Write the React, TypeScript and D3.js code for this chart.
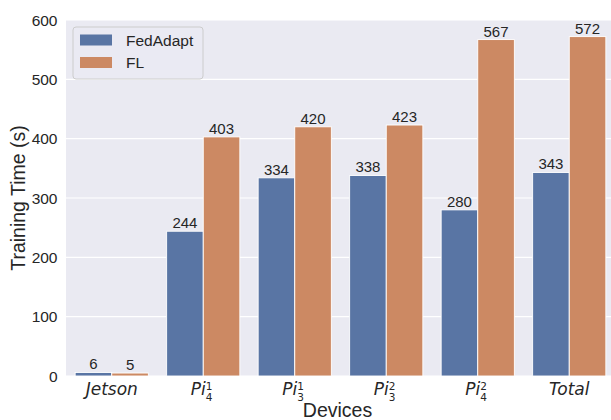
import * as React from 'react';
import * as d3 from 'd3';

const devices = ['Jetson', 'Pi41', 'Pi31', 'Pi32', 'Pi42', 'Total'];
const series = ['FedAdapt', 'FL'];
const fedAdapt = [6, 244, 334, 338, 280, 343];
const fl = [5, 403, 420, 423, 567, 572];
const yTicks = [0, 100, 200, 300, 400, 500, 600];

// how each x label is written: plain italic, or Pi with sup/sub
const tickLabels: Record<string, { base: string; sup?: string; sub?: string }> = {
  Jetson: { base: 'Jetson' },
  Pi41: { base: 'Pi', sup: '1', sub: '4' },
  Pi31: { base: 'Pi', sup: '1', sub: '3' },
  Pi32: { base: 'Pi', sup: '2', sub: '3' },
  Pi42: { base: 'Pi', sup: '2', sub: '4' },
  Total: { base: 'Total' },
};

const colors = ['#5975a4', '#cc8963'];
const W = 611;
const H = 420;
const m = { left: 66, right: 615, top: 20, bottom: 376 };
const textColor = '#262626';
const sans = '"Liberation Sans", Arial, sans-serif';
const math = '"DejaVu Sans", sans-serif';

const App: React.FC = () => {
  const x = d3.scaleBand().domain(devices).range([m.left, m.right]).paddingInner(0.2).paddingOuter(0.1);
  const xs = d3.scaleBand().domain(series).range([0, x.bandwidth()]);
  const y = d3.scaleLinear().domain([0, 600]).range([m.bottom, m.top]);
  const values = [fedAdapt, fl];

  return (
    <svg width={W} height={H} style={{ position: 'absolute', left: 0, top: 0 }}>
      <rect x={m.left} y={m.top} width={m.right - m.left} height={m.bottom - m.top} fill="#eaeaf2" />
      {yTicks.map((t) => (
        <g key={t}>
          <line x1={m.left} x2={m.right} y1={y(t)} y2={y(t)} stroke="#fff" strokeWidth={1.2} />
          <text x={m.left - 8.5} y={y(t) + 5.5} textAnchor="end" fontSize={15.5} fontFamily={sans} fill={textColor}>
            {t}
          </text>
        </g>
      ))}
      {series.map((s, si) =>
        devices.map((d, di) => {
          const v = values[si][di];
          const bx = (x(d) as number) + (xs(s) as number);
          return (
            <g key={s + d}>
              <rect x={bx} y={y(v)} width={xs.bandwidth()} height={y(0) - y(v)} fill={colors[si]} stroke="#fff" strokeWidth={0.9} />
              <text x={bx + xs.bandwidth() / 2} y={y(v) - 3} textAnchor="middle" fontSize={15} fontFamily={sans} fill={textColor}>
                {v}
              </text>
            </g>
          );
        })
      )}
      {devices.map((d) => {
        const cx = (x(d) as number) + x.bandwidth() / 2;
        const lab = tickLabels[d];
        if (!lab.sup) {
          return (
            <text key={d} x={cx} y={395} textAnchor="middle" fontSize={17} fontStyle="italic" fontFamily={math} fill={textColor}>
              {lab.base}
            </text>
          );
        }
        const x0 = cx - 12.5;
        return (
          <g key={d} fill={textColor} fontFamily={math} fontStyle="italic">
            <text x={x0} y={395} fontSize={17}>{lab.base}</text>
            <text x={x0 + 15} y={390} fontSize={10.5} fontStyle="normal">{lab.sup}</text>
            <text x={x0 + 15} y={401} fontSize={10.5} fontStyle="normal">{lab.sub}</text>
          </g>
        );
      })}
      <text x={(m.left + m.right) / 2 - 3} y={416.5} textAnchor="middle" fontSize={19.5} fontFamily={sans} fill={textColor}>
        Devices
      </text>
      <text
        transform={`translate(25, ${(m.top + m.bottom) / 2}) rotate(-90)`}
        textAnchor="middle"
        fontSize={19.5}
        fontFamily={sans}
        fill={textColor}
      >
        Training Time (s)
      </text>
      <g>
        <rect x={73} y={27} width={130} height={52} rx={3} fill="#eaeaf2" fillOpacity={0.8} stroke="#cccccc" strokeWidth={1} />
        {series.map((s, i) => (
          <g key={s}>
            <rect x={80} y={34.5 + i * 22.5} width={32} height={11} fill={colors[i]} />
            <text x={126} y={45.5 + i * 22.5} fontSize={15.5} fontFamily={sans} fill={textColor}>
              {s}
            </text>
          </g>
        ))}
      </g>
    </svg>
  );
};

export default App;
